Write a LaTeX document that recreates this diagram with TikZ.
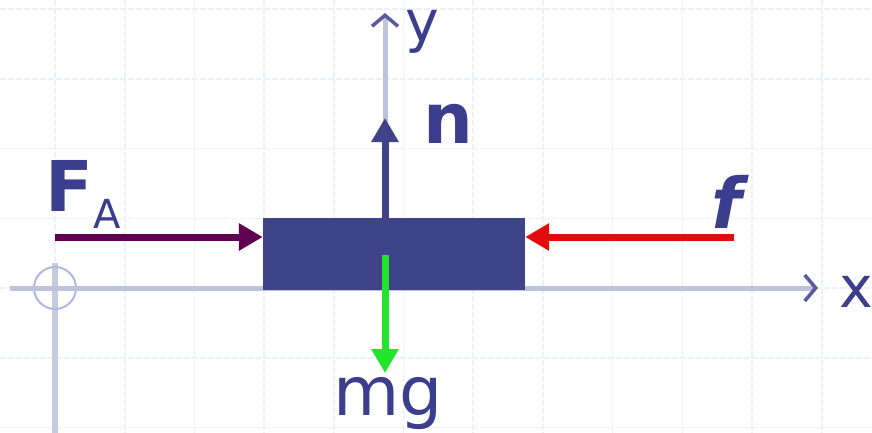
\documentclass[tikz,border=0pt]{standalone}
\usepackage{fontspec}
\setmainfont{DejaVu Sans}
\usetikzlibrary{arrows.meta}

\begin{document}
\begin{tikzpicture}[x=1pt,y=-1pt,every node/.style={inner sep=0pt,text=labelblue}]
	% Define colors
	\definecolor{blockblue}{RGB}{63,67,136}
	\definecolor{labelblue}{RGB}{58,62,140}
	\definecolor{pushpurple}{RGB}{96,0,82}
	\definecolor{frictionred}{RGB}{226,12,12}
	\definecolor{weightgreen}{RGB}{34,228,44}
	\definecolor{axisgray}{RGB}{190,194,218}
	\definecolor{gridgray}{RGB}{238,240,248}
	\definecolor{markblue}{RGB}{176,184,226}

	% Styles
	\tikzstyle{gridline} = [draw=gridgray, line width=1.6pt, dash pattern=on 6pt off 2pt]
	\tikzstyle{axis} = [draw=axisgray, line width=5pt, -{Straight Barb[length=11pt,width=26pt,line width=3.5pt,color=labelblue!85!white]}]
	\tikzstyle{force} = [line width=7pt, -{Triangle[length=24pt,width=26pt]}]
	\tikzstyle{blockbox} = [fill=blockblue, draw=none, minimum width=262pt, minimum height=72pt]
	\tikzstyle{boldlabel} = [font=\fontsize{70}{80}\selectfont\bfseries]
	\tikzstyle{axislabel} = [font=\fontsize{57}{66}\selectfont]

	\useasboundingbox (0,0) rectangle (872,433);
	\fill[white] (0,0) rectangle (872,433);

	% Background grid
	\foreach \i in {0,...,11}
		\draw[gridline] ({55+69.7*\i},0) -- ({55+69.7*\i},433);
	\foreach \j in {-2,...,4}
		\draw[gridline] (0,{288-69.7*\j}) -- (872,{288-69.7*\j});

	% Origin marker
	\coordinate (origin) at (55,288);
	\coordinate (originFoot) at (55,433);
	\draw[draw=axisgray!85!white, line width=6pt] (origin |- 0,263) -- (originFoot);
	\draw[draw=markblue, line width=2pt] (origin) circle (21);

	% Axes
	\coordinate (xStart) at (10,288);
	\coordinate (xEnd) at (818,288);
	\coordinate (yTop) at (385,13);
	\draw[axis] (xStart) -- (xEnd);
	\draw[axis] (385,218) -- (yTop);
	\node[axislabel, anchor=base] (lblX) at (856,307) {x};
	\node[axislabel, anchor=base] (lblY) at (422,42) {y};

	% Block
	\node[blockbox] (block) at (394,254) {};

	% Forces
	\coordinate (faTail) at (55,237);
	\coordinate (fTail) at (734,237);
	\coordinate (nTip) at (385,118);
	\coordinate (mgTail) at (385,255);
	\coordinate (mgTip) at (385,373);
	\draw[force, draw=pushpurple] (faTail) -- (faTail -| block.west);
	\draw[force, draw=frictionred] (fTail) -- (fTail -| block.east);
	\draw[force, draw=blockblue] (block.north -| nTip) -- (nTip);
	\draw[force, draw=weightgreen] (mgTail) -- (mgTip);

	% Labels
	\node[boldlabel, anchor=base west] (lblFA) at (45,211) {F\raisebox{-17pt}{\fontsize{40}{44}\selectfont\mdseries A}};
	\node[boldlabel, anchor=base] (lblF) at (727,228) {\itshape f};
	\node[boldlabel, anchor=base] (lblN) at (448,143) {n};
	\node[boldlabel, anchor=base, font=\fontsize{68}{78}\selectfont\mdseries] (lblMG) at (388,415) {mg};

\end{tikzpicture}
\end{document}
